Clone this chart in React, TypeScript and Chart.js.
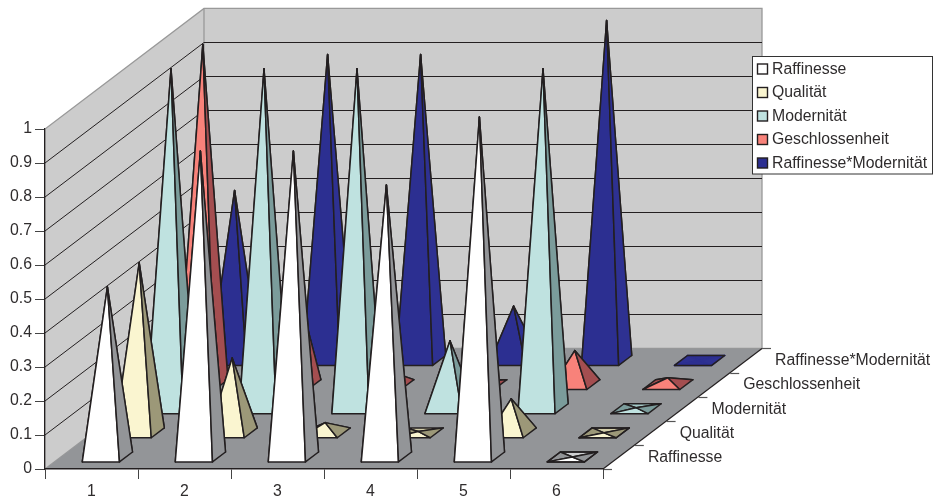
import React, { useEffect, useRef } from "react";
import { Chart, BarController, registerables } from "chart.js";

const categories = ["1", "2", "3", "4", "5", "6"];
const seriesNames = ["Raffinesse", "Qualität", "Modernität", "Geschlossenheit", "Raffinesse*Modernität"];

const raffinesse = [0.5, 0.9, 0.9, 0.8, 1.0, 0];
const qualitaet = [0.5, 0.22, 0.03, 0.004, 0.1, 0];
const modernitaet = [1.0, 1.0, 1.0, 0.2, 1.0, 0.003];
const geschlossenheit = [1.0, 0.3, 0.04, 0.01, 0.1, 0.02];
const raffinesseModernitaet = [0.5, 0.9, 0.9, 0.16, 1.0, 0];

const seriesValues = [raffinesse, qualitaet, modernitaet, geschlossenheit, raffinesseModernitaet];
const frontColors = ["#FFFFFF", "#FAF5D0", "#BFE2E0", "#F8827A", "#2C2F91"];
const sideColors = ["#939598", "#9C9878", "#7B9C9B", "#A44E50", "#2E3192"];
const backColors = ["#CFD0D2", "#D2CDA9", "#A3C8C6", "#D2686A", "#2C2F91"];
// Edge tint used on nearly flat pyramids, where the slanted edges cross over the base.
const flatEdgeColors = ["#231F20", "#231F20", "#231F20", "#231F20", "#2C2F91"];

const INK = "#231F20";
const TEXT = "#2F2C2D";
const WALL = "#CCCCCC";
const WALL_EDGE = "#999999";
const FLOOR = "#939598";
const FONT = "'Liberation Sans', Arial, sans-serif";

// Oblique projection of the category depth axis, in pixels.
const DEPTH_DX = 159;
const DEPTH_DY = -120.6;
const BAR_WIDTH = 0.4;
const BAR_DEPTH = 0.41;

type Pt = [number, number];

function face(ctx: CanvasRenderingContext2D, pts: Pt[], fill: string) {
  ctx.beginPath();
  pts.forEach((p, i) => (i ? ctx.lineTo(p[0], p[1]) : ctx.moveTo(p[0], p[1])));
  ctx.closePath();
  ctx.fillStyle = fill;
  ctx.fill();
  ctx.stroke();
}

// Bar controller variant that renders each value as a square pyramid on the chart floor.
class PyramidController extends BarController {
  static id = "pyramid3d";
  static defaults = { ...(BarController as any).defaults };
  static overrides = (BarController as any).overrides;

  draw() {
    const self = this as any;
    const ctx: CanvasRenderingContext2D = self.chart.ctx;
    const meta = self.getMeta();
    const xs = meta.xScale;
    const ys = meta.yScale;
    const depthCount = self.chart.data.datasets.length;
    const slot = (self.index + 0.5) / depthCount;
    const hw = ((xs.width / xs.ticks.length) * BAR_WIDTH) / 2;
    const hdx = ((DEPTH_DX / depthCount) * BAR_DEPTH) / 2;
    const hdy = ((DEPTH_DY / depthCount) * BAR_DEPTH) / 2;
    ctx.save();
    ctx.lineWidth = 1.5;
    ctx.lineJoin = "round";
    meta.data.forEach((_: unknown, i: number) => {
      const parsed = self.getParsed(i);
      const cx = xs.getPixelForValue(parsed.x) + DEPTH_DX * slot;
      const cy = ys.getPixelForValue(0) + DEPTH_DY * slot;
      const rise = ys.getPixelForValue(0) - ys.getPixelForValue(parsed.y);
      const apex: Pt = [cx, cy - rise];
      const fl: Pt = [cx - hw - hdx, cy - hdy];
      const fr: Pt = [cx + hw - hdx, cy - hdy];
      const br: Pt = [cx + hw + hdx, cy + hdy];
      const bl: Pt = [cx - hw + hdx, cy + hdy];
      ctx.strokeStyle = rise < 1 ? flatEdgeColors[self.index] : INK;
      face(ctx, [bl, br, apex], backColors[self.index]);
      face(ctx, [fl, bl, apex], sideColors[self.index]);
      face(ctx, [fl, fr, apex], frontColors[self.index]);
      face(ctx, [fr, br, apex], sideColors[self.index]);
      if (rise < 1) {
        ctx.strokeStyle = INK;
        ctx.beginPath();
        ctx.moveTo(fl[0], fl[1]);
        ctx.lineTo(fr[0], fr[1]);
        ctx.lineTo(br[0], br[1]);
        ctx.lineTo(bl[0], bl[1]);
        ctx.closePath();
        ctx.stroke();
      }
    });
    ctx.restore();
  }
}

// Walls, floor and the receding gridlines behind the pyramids.
const roomPlugin = {
  id: "room",
  beforeDraw(chart: any) {
    const { ctx, scales } = chart;
    const x0 = scales.x.left;
    const x1 = scales.x.right;
    const y0 = scales.y.getPixelForValue(0);
    const yTop = scales.y.getPixelForValue(1);
    ctx.save();
    ctx.lineWidth = 1.3;
    ctx.strokeStyle = WALL_EDGE;
    ctx.fillStyle = WALL;
    ctx.beginPath();
    ctx.moveTo(x0, y0);
    ctx.lineTo(x0, yTop);
    ctx.lineTo(x0 + DEPTH_DX, yTop + DEPTH_DY);
    ctx.lineTo(x1 + DEPTH_DX, yTop + DEPTH_DY);
    ctx.lineTo(x1 + DEPTH_DX, y0 + DEPTH_DY);
    ctx.lineTo(x0 + DEPTH_DX, y0 + DEPTH_DY);
    ctx.closePath();
    ctx.fill();
    ctx.stroke();
    ctx.beginPath();
    ctx.moveTo(x0 + DEPTH_DX, yTop + DEPTH_DY);
    ctx.lineTo(x0 + DEPTH_DX, y0 + DEPTH_DY);
    ctx.stroke();

    ctx.strokeStyle = INK;
    ctx.lineWidth = 1;
    scales.y.ticks.forEach((t: any) => {
      if (t.value <= 0 || t.value >= 1) return;
      const y = scales.y.getPixelForValue(t.value);
      const backY = Math.round(y + DEPTH_DY) + 0.5;
      ctx.beginPath();
      ctx.moveTo(x0, y);
      ctx.lineTo(x0 + DEPTH_DX, backY);
      ctx.lineTo(x1 + DEPTH_DX, backY);
      ctx.stroke();
    });

    ctx.fillStyle = FLOOR;
    ctx.beginPath();
    ctx.moveTo(x0, y0);
    ctx.lineTo(x1, y0);
    ctx.lineTo(x1 + DEPTH_DX, y0 + DEPTH_DY);
    ctx.lineTo(x0 + DEPTH_DX, y0 + DEPTH_DY);
    ctx.closePath();
    ctx.fill();

    // Depth axis with its ticks.
    ctx.strokeStyle = INK;
    ctx.lineWidth = 1.2;
    ctx.beginPath();
    ctx.moveTo(x1, y0);
    ctx.lineTo(x1 + DEPTH_DX, y0 + DEPTH_DY);
    ctx.stroke();
    ctx.strokeStyle = "#555555";
    const n = seriesNames.length;
    for (let i = 0; i <= n; i++) {
      const px = x1 + (DEPTH_DX * i) / n;
      const py = Math.round(y0 + (DEPTH_DY * i) / n) + 0.5;
      ctx.beginPath();
      ctx.moveTo(px, py);
      ctx.lineTo(px + 9, py);
      ctx.stroke();
    }
    ctx.restore();
  },
  afterDraw(chart: any) {
    const { ctx, scales } = chart;
    const x1 = scales.x.right;
    const y0 = scales.y.getPixelForValue(0);
    const n = seriesNames.length;
    ctx.save();
    ctx.font = `15.8px ${FONT}`;
    ctx.fillStyle = TEXT;
    ctx.textBaseline = "middle";
    ctx.textAlign = "left";
    seriesNames.forEach((name, i) => {
      const slot = (i + 0.5) / n;
      ctx.fillText(name, x1 + DEPTH_DX * slot + 29, y0 + DEPTH_DY * slot + 0.5);
    });

    // Key box laid over the top right corner of the room.
    const bx = 752.5;
    const by = 56.5;
    ctx.fillStyle = "#FFFFFF";
    ctx.strokeStyle = "#333333";
    ctx.lineWidth = 1;
    ctx.fillRect(bx, by, 180, 117.5);
    ctx.strokeRect(bx, by, 180, 117.5);
    chart.data.datasets.forEach((ds: any, i: number) => {
      const rowY = 69 + i * 23.5;
      ctx.fillStyle = frontColors[i];
      ctx.strokeStyle = INK;
      ctx.lineWidth = 1.4;
      ctx.fillRect(757.5, rowY - 5, 10, 10);
      ctx.strokeRect(757.5, rowY - 5, 10, 10);
      ctx.fillStyle = TEXT;
      ctx.fillText(ds.label, 772, rowY + 0.5);
    });
    ctx.restore();
  },
};

Chart.register(...registerables, PyramidController as any);

export default function App() {
  const ref = useRef<HTMLCanvasElement>(null);
  useEffect(() => {
    const tickFont = { family: FONT, size: 15.8 };
    const chart = new Chart(ref.current as HTMLCanvasElement, {
      type: "pyramid3d" as any,
      data: {
        labels: categories,
        datasets: seriesNames.map((label, i) => ({
          label,
          data: seriesValues[i],
          backgroundColor: frontColors[i],
          clip: false as any,
        })),
      },
      options: {
        responsive: false,
        animation: false,
        events: [],
        layout: { padding: { top: 129, right: 330, bottom: 0, left: 0 } },
        plugins: { legend: { display: false }, tooltip: { enabled: false } },
        scales: {
          x: {
            type: "category",
            offset: true,
            grid: {
              offset: true,
              drawOnChartArea: false,
              drawTicks: true,
              tickLength: 10,
              color: "#444444",
              lineWidth: 1,
            },
            border: { color: INK, width: 1.5 },
            ticks: { font: tickFont, color: TEXT, padding: 3, maxRotation: 0 },
            afterFit: (s: any) => {
              s.height = 32;
            },
          },
          y: {
            type: "linear",
            min: 0,
            max: 1,
            grid: {
              drawOnChartArea: false,
              drawTicks: true,
              tickLength: 10,
              color: "#444444",
              lineWidth: 1,
            },
            border: { color: INK, width: 1.2 },
            ticks: {
              stepSize: 0.1,
              font: tickFont,
              color: TEXT,
              padding: 3,
              callback: (v: any) => String(Math.round(Number(v) * 10) / 10),
            },
            afterFit: (s: any) => {
              s.width = 45;
            },
          },
        },
      },
      plugins: [roomPlugin],
    } as any);
    return () => chart.destroy();
  }, []);
  return (
    <div style={{ position: "absolute", left: 0, top: 0, width: 933, height: 501, background: "#FFFFFF" }}>
      <canvas ref={ref} width={933} height={501} style={{ display: "block" }} />
    </div>
  );
}
